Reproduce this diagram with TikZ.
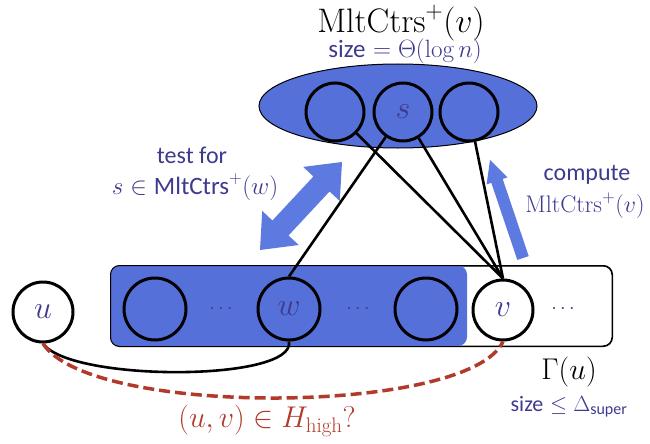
\RequirePackage{fix-cm}
\documentclass[tikz,border=0pt]{standalone}
\usepackage{fontspec}
\newfontfamily\sansc{Carlito}
\usetikzlibrary{shapes.geometric}
\definecolor{fillblue}{HTML}{5570D8}
\definecolor{txtpurple}{HTML}{3E3A8E}
\definecolor{dashred}{HTML}{B23A2A}
\definecolor{arrowblue}{HTML}{5C7AE0}
\tikzset{
  vtx/.style={draw=black, line width=3pt, circle, minimum size=#1, inner sep=0pt,
     text=txtpurple, font=\fontsize{32}{36}\selectfont},
  vtx/.default={60pt},
  lbl/.style={text=txtpurple, inner sep=0pt},
  edge/.style={line width=2.6pt, black},
  dots/.style={text=txtpurple, font=\fontsize{20}{24}\selectfont, inner sep=0pt},
  bigarrow/.style={fill=arrowblue}
}
\begin{document}
\begin{tikzpicture}[x=1pt,y=-1pt]
\useasboundingbox (0,0) rectangle (650,444);
% title
\node[font=\fontsize{34}{38}\selectfont, inner sep=0pt] (title) at (401,23) {$\mathrm{MltCtrs}^{+}(v)$};
\node[lbl, font=\fontsize{25}{30}\selectfont] (tsize) at (405,51) {{\sansc size} $=\Theta(\log n)$};
% ellipse
\node[ellipse, draw=black, line width=1pt, fill=fillblue, minimum width=278pt, minimum height=84pt] (mc) at (398,106) {};
\node[vtx, minimum size=58pt] (c1) at (335,112) {};
\node[vtx, minimum size=58pt] (s) at (403,112) {$s$};
\node[vtx, minimum size=58pt] (c3) at (469,112) {};
% bottom set
\node[draw=black, line width=1pt, rounded corners=9pt, fill=white, minimum width=501pt, minimum height=80pt, inner sep=0pt] (gam) at (361.5,306) {};
\fill[fillblue, rounded corners=9pt] (gam.north west) rectangle (467,346);
\draw[black, line width=1pt, rounded corners=9pt] (gam.north west) rectangle (gam.south east);
\node[vtx, fill=white] (u) at (43,312) {$u$};
\node[vtx, minimum size=62pt] (b1) at (155,309) {};
\node[dots] (d1) at (221,309) {$\cdots$};
\node[vtx, minimum size=62pt] (w) at (289,309) {$w$};
\node[dots] (d2) at (358,309) {$\cdots$};
\node[vtx, minimum size=62pt] (b3) at (426,309) {};
\node[vtx, fill=white] (v) at (503,310) {$v$};
\node[dots] (d3) at (563,309) {$\cdots$};
% edges
\draw[edge] (c1) -- (v.north);
\draw[edge] (s) -- (v.north);
\draw[edge] (c3) -- (v.north);
\draw[edge] (s) -- (w.north);
\draw[edge] (u.south) .. controls (70,382) and (296,382) .. (w.south);
\draw[dashred, line width=3.5pt, dash pattern=on 11pt off 5pt] (u.south) .. controls (90,418) and (470,415) .. (v.south);
% arrows
\fill[bigarrow] (260,250) -- (298.8,245.0) -- (288.5,235.5) -- (329.5,191.5) -- (339.8,201.0)
   -- (342,162) -- (303.2,166.9) -- (313.4,176.5) -- (272.4,220.5) -- (262.2,210.9) -- cycle;
\fill[bigarrow] (490,160) -- (507.4,177.4) -- (502.7,179.0) -- (528.7,256.1) -- (517.3,259.9)
   -- (491.3,182.8) -- (486.6,184.4) -- cycle;
% labels
\node[lbl, font=\fontsize{24}{28}\sansc] (test) at (192,155) {test for};
\node[lbl, font=\fontsize{25}{30}\selectfont] (testm) at (195,187) {$s\in\mbox{\sansc MltCtrs}^{+}(w)$};
\node[lbl, font=\fontsize{24}{28}\sansc] (compl) at (587,175) {compute};
\node[lbl, font=\fontsize{24}{28}\selectfont] (compm) at (585,206) {$\mathrm{MltCtrs}^{+}(v)$};
\node[font=\fontsize{30}{34}\selectfont, inner sep=0pt] (gl) at (569,372) {$\Gamma(u)$};
\node[lbl, font=\fontsize{22}{26}\selectfont] (gsize) at (569,407) {{\sansc size} $\leq\Delta_{\mbox{\sansc\fontsize{16}{18}\selectfont super}}$};
\node[text=dashred, font=\fontsize{30}{34}\selectfont, inner sep=0pt] (q) at (267,421) {$(u,v)\in H_{\mathrm{high}}$?};
\end{tikzpicture}
\end{document}
